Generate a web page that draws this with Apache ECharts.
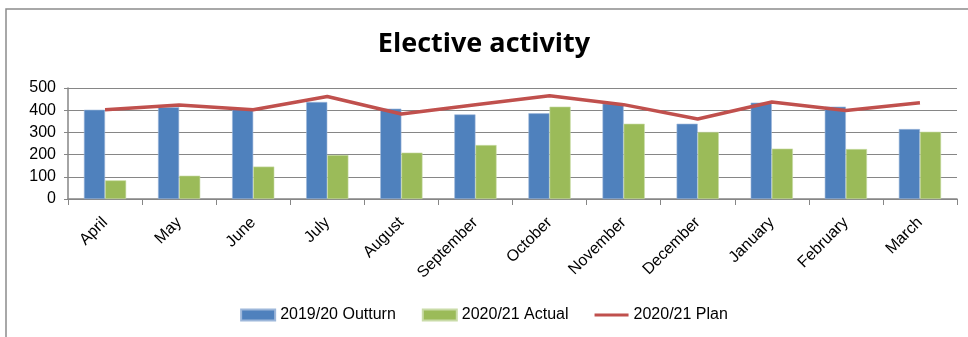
<!DOCTYPE html>
<html>
<head>
<meta charset="utf-8">
<script src="https://cdn.jsdelivr.net/npm/echarts@6/dist/echarts.min.js"></script>
<style>
  html, body { margin: 0; padding: 0; background: #fff; }
  #main { width: 968px; height: 337px; }
</style>
</head>
<body>
<div id="main"></div>
<script>
var months = ['April', 'May', 'June', 'July', 'August', 'September', 'October', 'November', 'December', 'January', 'February', 'March'];
var outturn1920 = [402, 414, 405, 437, 407, 381, 386, 430, 339, 434, 416, 315];
var actual2021 = [84, 105, 146, 198, 209, 243, 416, 339, 302, 227, 225, 303];
var plan2021 = [402, 423, 402, 462, 383, 425, 465, 425, 360, 437, 399, 434];
var yTicks = [0, 100, 200, 300, 400, 500];

var chartDom = document.getElementById('main');
var myChart = echarts.init(chartDom);
var font = "'Liberation Sans', sans-serif";

option = {
    animation: false,
    backgroundColor: '#fff',
    title: {
        text: 'Elective activity',
        left: 'center',
        top: 26,
        textStyle: {
            fontFamily: "'Open Sans', sans-serif",
            fontSize: 27,
            fontWeight: 'bold',
            color: '#000'
        }
    },
    graphic: [
        {
            // outer chart frame (top and left edges visible)
            type: 'rect',
            shape: { x: 6, y: 9, width: 1000, height: 400 },
            style: { fill: 'none', stroke: '#8c8c8c', lineWidth: 1.5 },
            silent: true
        }
    ],
    grid: {
        left: 68,
        right: 11,
        top: 88,
        bottom: 138
    },
    legend: {
        bottom: 9,
        left: 'center',
        itemWidth: 34,
        itemHeight: 11,
        itemGap: 26,
        textStyle: { fontFamily: font, fontSize: 16, color: '#000' },
        data: [
            { name: '2019/20 Outturn', icon: 'rect' },
            { name: '2020/21 Actual', icon: 'rect' },
            { name: '2020/21 Plan', icon: 'path://M0,0 L0.01,0 M0,4 H34 V7 H0 Z M0,11 L0.01,11' }
        ]
    },
    xAxis: {
        type: 'category',
        data: months,
        boundaryGap: true,
        axisLine: { show: true, lineStyle: { color: '#868686', width: 1.5 } },
        axisTick: { show: true, interval: 0, length: 6, lineStyle: { color: '#868686' } },
        axisLabel: {
            interval: 0,
            rotate: 45,
            margin: 21,
            fontFamily: font,
            fontSize: 16,
            color: '#000'
        }
    },
    yAxis: {
        type: 'value',
        min: yTicks[0],
        max: yTicks[yTicks.length - 1],
        interval: 100,
        axisLine: { show: true, lineStyle: { color: '#868686', width: 1.5 } },
        axisTick: { show: true, length: 4, lineStyle: { color: '#868686' } },
        axisLabel: {
            margin: 12,
            fontFamily: font,
            fontSize: 16,
            color: '#000'
        },
        splitLine: { show: true, lineStyle: { color: '#868686', width: 1.2 } }
    },
    series: [
        {
            name: '2019/20 Outturn',
            type: 'bar',
            data: outturn1920,
            barGap: 0,
            barCategoryGap: '43%',
            itemStyle: { color: '#4F81BD', borderColor: '#9DB7DA', borderWidth: 0.6 }
        },
        {
            name: '2020/21 Actual',
            type: 'bar',
            data: actual2021,
            barGap: 0,
            barCategoryGap: '43%',
            itemStyle: { color: '#9BBB59', borderColor: '#C9DBA8', borderWidth: 0.6 }
        },
        {
            name: '2020/21 Plan',
            type: 'line',
            data: plan2021,
            symbol: 'none',
            z: 5,
            lineStyle: { color: '#C0504D', width: 3.5 },
            itemStyle: { color: '#C0504D' }
        }
    ]
};

option && myChart.setOption(option);
window.addEventListener('resize', function () {
    myChart.resize();
});
</script>
</body>
</html>
